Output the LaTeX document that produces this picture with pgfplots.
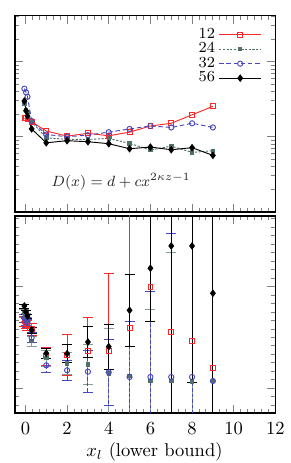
\documentclass[border=0pt]{standalone}
\usepackage{pgfplots}
\pgfplotsset{compat=1.18}
\definecolor{cred}{RGB}{255,40,40}
\definecolor{cgray}{RGB}{80,112,108}
\definecolor{cblue}{RGB}{70,70,190}

\pgfplotstableread{
x y
-0.05 1.76
0.03 1.76
0.1 1.70
0.3 1.58
1 1.19
2 1.02
3 1.11
4 1.03
5 1.15
6 1.39
7 1.51
8 1.96
9 2.54
}\redtop
\pgfplotstableread{
x y
-0.05 2.73
0.03 2.27
0.1 2.15
0.3 1.58
1 0.97
2 0.92
3 0.92
4 0.95
5 0.815
6 0.664
7 0.75
8 0.618
9 0.65
}\graytop
\pgfplotstableread{
x y
-0.05 4.37
0.03 3.90
0.1 3.41
0.3 1.62
1 1.07
2 1.00
3 1.05
4 1.15
5 1.27
6 1.39
7 1.33
8 1.51
9 1.33
}\bluetop
\pgfplotstableread{
x y
-0.05 2.99
0.03 2.22
0.1 1.89
0.3 1.27
1 0.83
2 0.885
3 0.858
4 0.807
5 0.692
6 0.728
7 0.671
8 0.714
9 0.564
}\blacktop

\pgfplotstableread{
x y e
-0.05 92 5
0.03 90 5
0.1 88 5
0.3 84 6
1 57 9
2 58 20.7
3 62 33.5
4 61.7 78
5 85.3 200
6 125.7 200
7 81 200
8 71.7 200
9 45.3 200
}\redbot
\pgfplotstableread{
x y e
-0.05 100 4
0.03 96 4
0.1 92 4
0.3 72 5
1 55 8
2 49.7 11
3 48.3 20
4 39.7 45
5 37 55
6 32 72
7 32 129
8 31.3 200
9 32 200
}\graybot
\pgfplotstableread{
x y e
-0.05 95 4
0.03 92 4
0.1 90 4
0.3 75.3 5
1 47.7 7
2 42.7 10
3 41.3 21
4 40.7 33
5 36 56
6 36 86
7 36 144
8 36 200
9 32 200
}\bluebot
\pgfplotstableread{
x y e
-0.05 107 2
0.03 101 2
0.1 97 2
0.3 83 3
1 59.7 4.7
2 59.3 9
3 71 15.7
4 66.3 22.5
5 102.7 36
6 144.7 52.7
7 167 200
8 167 136
9 119.7 200
}\blackbot

\pgfplotsset{
  panel/.style={
    scale only axis, width=140.6pt,
    xmin=-0.5, xmax=12,
    xtick={0,2,...,12}, minor x tick num=5,
    yticklabels={},
    tick pos=both, tick align=inside,
    major tick length=4.5pt, minor tick length=2.2pt,
    tick style={line width=0.5pt},
    axis line style={line width=0.7pt},
  },
  s12/.style={cred, line width=0.5pt, mark=square, mark size=1.3pt, mark options={solid}},
  s24/.style={cgray, line width=0.5pt, dash pattern=on 1.2pt off 0.8pt, mark=square*, mark size=0.95pt, mark options={solid}},
  s32/.style={cblue, line width=0.5pt, dash pattern=on 2.4pt off 1.5pt, mark=o, mark size=1.4pt, mark options={solid}},
  s56/.style={black, line width=0.5pt, mark=diamond*, mark size=1.7pt, mark options={solid}},
}

\begin{document}
\begin{tikzpicture}
\path[use as bounding box] (0,0) rectangle (157.1pt,250pt);
\begin{axis}[panel,
  at={(8.1pt,135.5pt)}, anchor=south west, height=106pt,
  ymode=log, ymin=0.099, ymax=41,
  xticklabels={},
  legend style={at={(0.949,0.958)}, anchor=north east, draw=none, fill=none,
    font=\fontsize{8.3}{9}\selectfont, row sep=-3.2pt, inner sep=0pt},
  legend plot pos=right, legend cell align=right,
  legend image code/.code={\draw[mark repeat=2,mark phase=2] plot coordinates {(0cm,0cm) (0.4cm,0cm) (0.8cm,0cm)};},
]
\addplot[s12] table[x=x,y=y] {\redtop};
\addlegendentry{12}
\addplot[s24] table[x=x,y=y] {\graytop};
\addlegendentry{24}
\addplot[s32] table[x=x,y=y] {\bluetop};
\addlegendentry{32}
\addplot[s56] table[x=x,y=y] {\blacktop};
\addlegendentry{56}
\node[anchor=west, font=\fontsize{8.5}{10}\selectfont, text=black!85] at (axis cs:0.95,0.25) {$D(x) = d + cx^{2\kappa z-1}$};
\end{axis}

\begin{axis}[panel,
  at={(8.1pt,27pt)}, anchor=south west, height=106.4pt,
  ymin=0, ymax=197,
  ytick={24.7,126.3},
  minor ytick={7.8,16.2,33.2,41.6,50.1,58.6,67.1,75.5,84.0,92.5,101.0,109.4,117.9,134.8,143.3,151.8,160.2,168.7,177.2,185.6,194.1},
  xticklabel style={font=\fontsize{10}{12}\selectfont, yshift=-1.5pt},
  xlabel={$x_l$ (lower bound)},
  xlabel style={font=\fontsize{10}{12}\selectfont, yshift=2.5pt, xshift=5pt},
  error bars/y dir=both, error bars/y explicit,
]
\addplot[s12, only marks, error bars/error bar style={cred, solid, line width=0.6pt}, error bars/error mark options={rotate=90, mark size=2.7pt, cred, solid}] table[x=x,y=y,y error=e] {\redbot};
\addplot[s24, only marks, error bars/error bar style={cgray!70, solid, line width=0.6pt}, error bars/error mark options={rotate=90, mark size=2.7pt, cgray!70, solid}] table[x=x,y=y,y error=e] {\graybot};
\addplot[s32, only marks, error bars/error bar style={cblue, dash pattern=on 2pt off 1pt, line width=0.6pt}, error bars/error mark options={rotate=90, mark size=2.7pt, cblue, solid}] table[x=x,y=y,y error=e] {\bluebot};
\addplot[s56, only marks, error bars/error bar style={black, solid, line width=0.6pt}, error bars/error mark options={rotate=90, mark size=2.7pt, black, solid}] table[x=x,y=y,y error=e] {\blackbot};
\end{axis}
\end{tikzpicture}
\end{document}
